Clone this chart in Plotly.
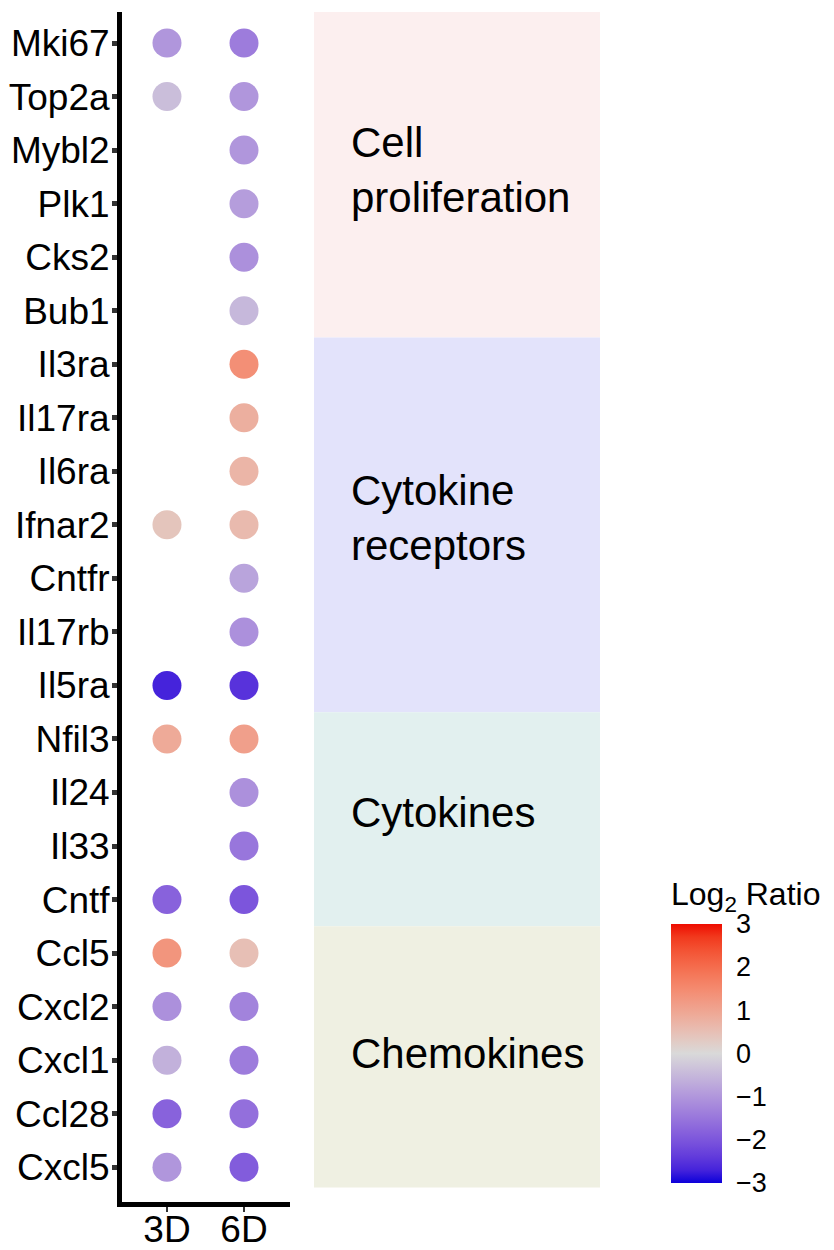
import numpy as np
import plotly.graph_objects as go

# ---------------- data ----------------
genes = ["Mki67", "Top2a", "Mybl2", "Plk1", "Cks2", "Bub1",
         "Il3ra", "Il17ra", "Il6ra", "Ifnar2", "Cntfr", "Il17rb", "Il5ra",
         "Nfil3", "Il24", "Il33", "Cntf",
         "Ccl5", "Cxcl2", "Cxcl1", "Ccl28", "Cxcl5"]
timepoints = ["3D", "6D"]
ratio_3d = [-1.0, -0.4, None, None, None, None,
            None, None, None, 0.4, None, None, -2.7,
            0.9, None, None, -1.8,
            1.3, -1.1, -0.6, -1.8, -1.0]
ratio_6d = [-1.4, -1.0, -1.0, -0.9, -1.1, -0.5,
            1.4, 0.8, 0.7, 0.6, -0.8, -1.1, -2.5,
            1.1, -1.1, -1.5, -2.0,
            0.5, -1.3, -1.4, -1.6, -1.9]
group_names = ["Cell<br>proliferation", "Cytokine<br>receptors", "Cytokines", "Chemokines"]
group_sizes = [6, 7, 4, 5]
group_colors = ["#FCEFEF", "#E3E3FB", "#E2F0EF", "#EFF0E2"]
cbar_ticks = [-3, -2, -1, 0, 1, 2, 3]

# ---------------- colour scale (Lab interpolation like ggplot gradient2) ----------------
def srgb_to_lab(rgb):
    c = np.array(rgb, dtype=float) / 255.0
    c = np.where(c <= 0.04045, c / 12.92, ((c + 0.055) / 1.055) ** 2.4)
    M = np.array([[0.4124, 0.3576, 0.1805], [0.2126, 0.7152, 0.0722], [0.0193, 0.1192, 0.9505]])
    xyz = M @ c / np.array([0.95047, 1.0, 1.08883])
    f = np.where(xyz > 0.008856, np.cbrt(xyz), 7.787 * xyz + 16 / 116)
    return np.array([116 * f[1] - 16, 500 * (f[0] - f[1]), 200 * (f[1] - f[2])])

def lab_to_srgb(lab):
    L, a, b = lab
    fy = (L + 16) / 116
    fx = fy + a / 500
    fz = fy - b / 200
    f = np.array([fx, fy, fz])
    xyz = np.where(f ** 3 > 0.008856, f ** 3, (f - 16 / 116) / 7.787) * np.array([0.95047, 1.0, 1.08883])
    Minv = np.array([[3.2406, -1.5372, -0.4986], [-0.9689, 1.8758, 0.0415], [0.0557, -0.2040, 1.0570]])
    c = Minv @ xyz
    c = np.clip(c, 0, 1)
    c = np.where(c <= 0.0031308, 12.92 * c, 1.055 * c ** (1 / 2.4) - 0.055)
    return tuple(int(round(v * 255)) for v in np.clip(c, 0, 1))

low, mid, high = srgb_to_lab((12, 0, 218)), srgb_to_lab((217, 217, 217)), srgb_to_lab((238, 12, 0))
colorscale = []
n = 20
for i in range(n + 1):
    t = i / n
    if t <= 0.5:
        lab = low + (mid - low) * (t / 0.5)
    else:
        lab = mid + (high - mid) * ((t - 0.5) / 0.5)
    r, g, b = lab_to_srgb(lab)
    colorscale.append([t, f"rgb({r},{g},{b})"])

# ---------------- geometry (page has an 8px body margin) ----------------
OFF = 8
W, H = 834 - OFF, 1250 - OFF
def px(x):
    return (x - OFF) / W
def py(y):
    return 1 - (y - OFF) / H

FONT = "Liberation Sans, Arial, Helvetica, sans-serif"
fig = go.Figure()

CB_LEFT, CB_RIGHT, CB_BOTTOM, CB_BAR = 671, 722, 1183, 260
ypos = list(range(len(genes)))
series = [ratio_3d, ratio_6d]
for xi, vals in enumerate(series):
    ys = [y for y, v in zip(ypos, vals) if v is not None]
    cs = [v for v in vals if v is not None]
    fig.add_trace(go.Scatter(
        x=[xi] * len(ys), y=ys, mode="markers",
        marker=dict(size=29, color=cs, colorscale=colorscale, cmin=-3, cmax=3,
                    showscale=(xi == 0), line=dict(width=0),
                    colorbar=dict(
                        title=dict(text="Log<sub>2</sub> Ratio", side="top",
                                   font=dict(size=32, color="black", family=FONT)),
                        tickvals=cbar_ticks,
                        ticktext=[str(t) if t >= 0 else "\u2212" + str(-t) for t in cbar_ticks],
                        tickfont=dict(size=27, color="black", family=FONT),
                        ticks="outside", tickcolor="rgba(0,0,0,0)", ticklen=9, tickwidth=1,
                        thickness=CB_RIGHT - CB_LEFT, thicknessmode="pixels",
                        len=CB_BAR + 45, lenmode="pixels",
                        x=px(CB_LEFT), xanchor="left", xref="paper",
                        y=py(CB_BOTTOM), yanchor="bottom", yref="paper",
                        xpad=0, ypad=0, outlinewidth=0)),
        showlegend=False, hoverinfo="skip"))

# white inside tick marks on both edges of the colour bar
for v in cbar_ticks:
    yy = py(CB_BOTTOM - (v + 3) / 6 * CB_BAR)
    for x0, x1 in [(CB_LEFT, CB_LEFT + 9), (CB_RIGHT - 9, CB_RIGHT)]:
        fig.add_shape(type="line", xref="paper", yref="paper", x0=px(x0), x1=px(x1), y0=yy, y1=yy,
                      line=dict(color="white", width=1.2), layer="above")

# category panels (contiguous bands)
cum = np.cumsum([0] + group_sizes)
edges = cum - 0.5
edges[0] -= 0.1
edges[-1] -= 0.12
for i, (name, color) in enumerate(zip(group_names, group_colors)):
    fig.add_shape(type="rect", xref="x2", yref="y", x0=0, x1=1, y0=edges[i], y1=edges[i + 1],
                  fillcolor=color, line=dict(width=0), layer="below")
    fig.add_annotation(xref="x2", yref="y", x=0.122, y=(cum[i] + cum[i + 1]) / 2 - 0.5 - 0.12,
                       text=name, showarrow=False, xanchor="left", yanchor="middle", align="left",
                       font=dict(size=42, color="black", family=FONT))

fig.update_layout(
    width=W, height=H, margin=dict(l=0, r=0, t=0, b=0),
    paper_bgcolor="white", plot_bgcolor="rgba(0,0,0,0)",
    font=dict(family=FONT, color="black"),
    xaxis=dict(domain=[px(122), px(290)], range=[-0.584, 1.597],
               tickvals=[0, 1], ticktext=timepoints,
               tickfont=dict(size=37, color="black", family=FONT),
               ticks="outside", ticklen=5, tickwidth=2, tickcolor="#333333",
               ticklabelstandoff=-14,
               showline=True, linecolor="black", linewidth=5,
               showgrid=False, zeroline=False, automargin=False, fixedrange=True),
    yaxis=dict(domain=[py(1202), py(12)], range=[21.65, -0.58],
               tickvals=ypos, ticktext=genes,
               tickfont=dict(size=37, color="black", family=FONT),
               ticks="outside", ticklen=5, tickwidth=5, tickcolor="#333333",
               ticklabelstandoff=-5,
               showline=True, linecolor="black", linewidth=5,
               showgrid=False, zeroline=False, automargin=False, fixedrange=True),
    xaxis2=dict(domain=[px(314), px(600)], range=[0, 1], anchor="y",
                visible=False, fixedrange=True),
)

fig.write_html("out.html")
